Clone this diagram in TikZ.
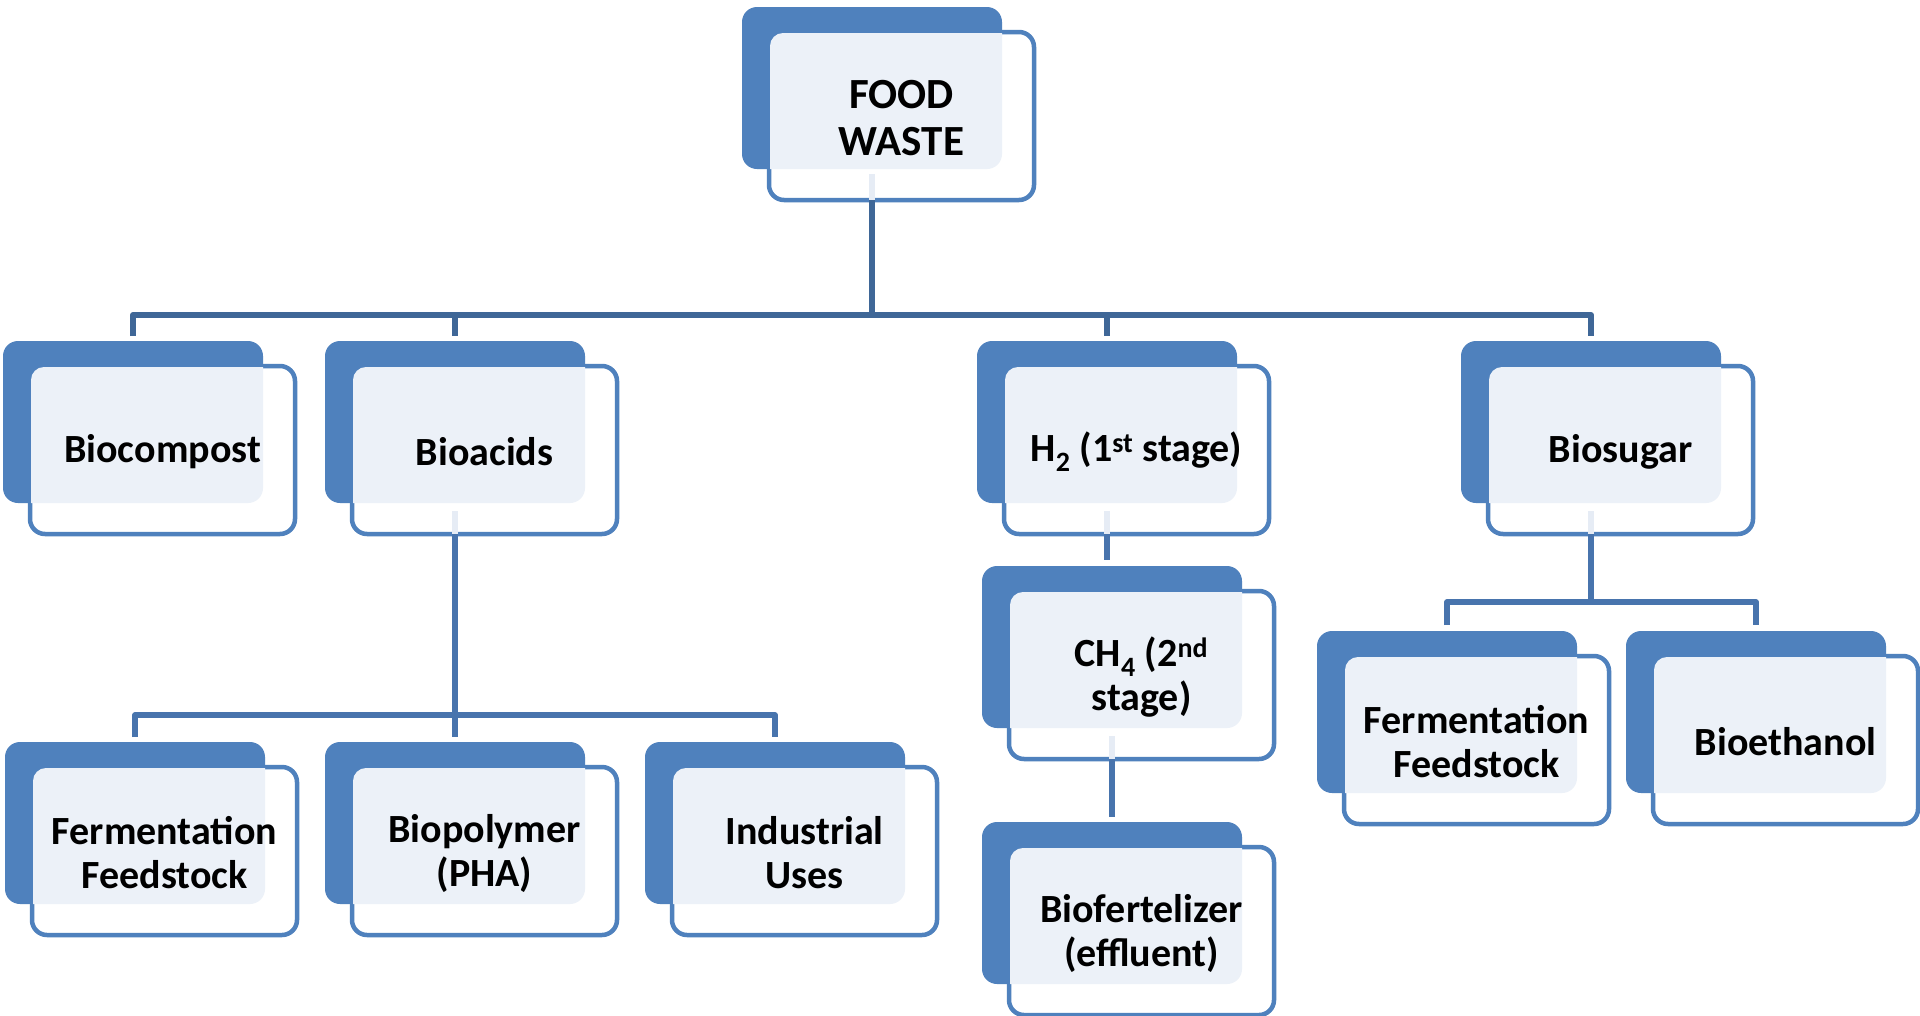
\documentclass[tikz,border=0pt]{standalone}
\usepackage{fontspec}
\setmainfont{Carlito}
\usetikzlibrary{calc}
\definecolor{mblue}{HTML}{4F81BD}
\definecolor{lightfill}{HTML}{ECF1F8}
\definecolor{conA}{HTML}{3F6797}
\definecolor{conB}{HTML}{4874AD}
\definecolor{segc}{HTML}{E6ECF5}
\tikzset{
 backbox/.style={fill=mblue, draw=none, rounded corners=15pt, minimum width=260pt, minimum height=162pt, inner sep=0pt, outer sep=0pt},
 frontbox/.style={fill=white, draw=mblue, line width=4.5pt, rounded corners=15pt, minimum width=265pt, minimum height=168pt, inner sep=0pt},
 lbl/.style={font=\fontsize{40}{44}\selectfont\bfseries, align=center, text=black, inner sep=0pt, yshift=-2pt},
 biglbl/.style={font=\fontsize{43}{47}\selectfont\bfseries},
 conn1/.style={draw=conA, line width=6pt, line join=round},
 conn2/.style={draw=conB, line width=5.5pt, line join=round},
 faint/.style={draw=segc, line width=5.5pt}
}
\newcommand\tierbox[5][]{%
 \node[backbox] (#2b) at ({#3+130},{#4+81}) {};
 \node[frontbox] (#2f) at ({#3+159.5},{#4+109}) {};
 \begin{scope}
 \clip[rounded corners=13pt] ({#3+28},{#4+26}) rectangle ({#3+291},{#4+192});
 \fill[lightfill, rounded corners=15pt] (#2b.north west) rectangle (#2b.south east);
 \end{scope}
 \node[lbl,#1] (#2) at (#2f.center) {#5};
}
\begin{document}
\begin{tikzpicture}[x=1pt,y=-1pt]
\useasboundingbox (0,0) rectangle (1920,1015);
\fill[white] (0,0) rectangle (1920,1015);
\coordinate (bar1) at (0,315);
\coordinate (bar2) at (0,715);
\coordinate (bar3) at (0,602);
\tierbox[biglbl]{fw}{742}{7}{FOOD\\WASTE}
\tierbox{bc}{3}{341}{Biocompost}
\tierbox{ba}{325}{341}{Bioacids}
\tierbox{h2}{977}{341}{H\textsubscript{2} (1\textsuperscript{st} stage)}
\tierbox{bs}{1461}{341}{Biosugar}
\tierbox{ffa}{5}{742}{Fermentation\\Feedstock}
\tierbox{bp}{325}{742}{Biopolymer\\(PHA)}
\tierbox{iu}{645}{742}{Industrial\\Uses}
\tierbox{ch}{982}{566}{CH\textsubscript{4} (2\textsuperscript{nd}\\stage)}
\tierbox{bf}{982}{822}{Biofertelizer\\(effluent)}
\tierbox{ffb}{1317}{631}{Fermentation\\Feedstock}
\tierbox{be}{1626}{631}{Bioethanol}
% top level connectors
\draw[faint] ([yshift=-5pt]fwb.south) -- (fwf.south -| fwb.south);
\draw[conn1] ([yshift=2pt]fwf.south -| fwb.south) -- (fwb.south |- bar1);
\draw[conn1] ([yshift=5pt]bcb.north) -- (bcb.north |- bar1) -- (bsb.north |- bar1) -- ([yshift=5pt]bsb.north);
\draw[conn1] (bab.north |- bar1) -- ([yshift=5pt]bab.north);
\draw[conn1] (h2b.north |- bar1) -- ([yshift=5pt]h2b.north);
% bioacids
\draw[faint] ([yshift=-8pt]bab.south) -- (baf.south -| bab.south);
\draw[conn2] ([yshift=2pt]baf.south -| bab.south) -- ([yshift=5pt]bpb.north);
\draw[conn2] ([yshift=5pt]ffab.north) -- (ffab.north |- bar2) -- (iub.north |- bar2) -- ([yshift=5pt]iub.north);
% H2 -> CH4 -> biofertilizer
\draw[faint] ([yshift=-8pt]h2b.south) -- (h2f.south -| h2b.south);
\draw[conn2] ([yshift=2pt]h2f.south -| h2b.south) -- ([yshift=6pt]chb.north -| h2b.south);
\draw[faint] ([yshift=-8pt]chb.south) -- (chf.south -| chb.south);
\draw[conn2] ([yshift=2pt]chf.south -| chb.south) -- ([yshift=5pt]bfb.north);
% biosugar
\draw[faint] ([yshift=-8pt]bsb.south) -- (bsf.south -| bsb.south);
\draw[conn2] ([yshift=2pt]bsf.south -| bsb.south) -- (bsb.south |- bar3);
\draw[conn2] ([yshift=6pt]ffbb.north) -- (ffbb.north |- bar3) -- (beb.north |- bar3) -- ([yshift=6pt]beb.north);
\end{tikzpicture}
\end{document}
